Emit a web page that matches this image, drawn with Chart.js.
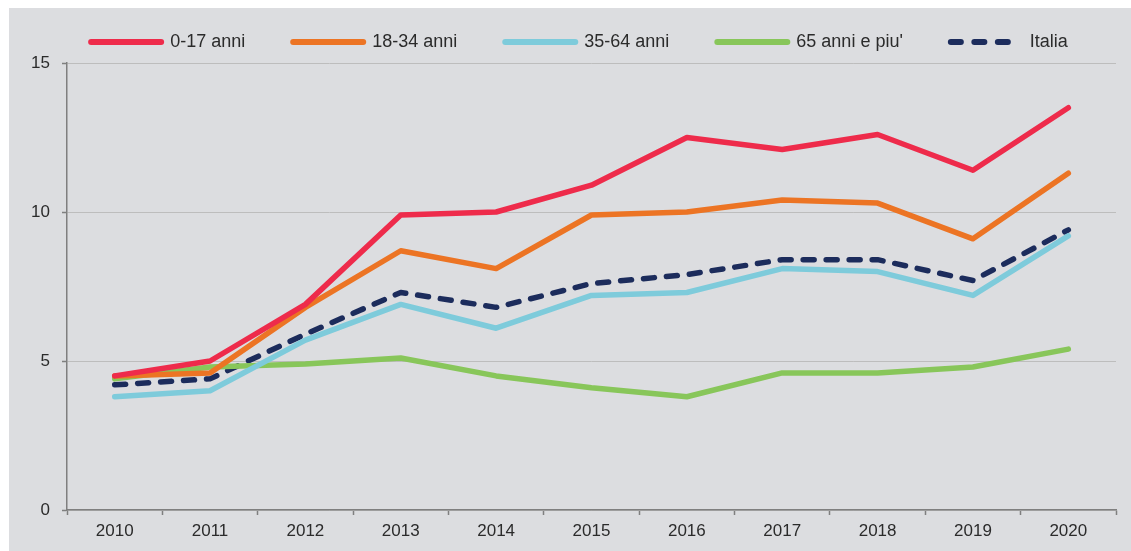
<!DOCTYPE html>
<html>
<head>
<meta charset="utf-8">
<script src="https://cdn.jsdelivr.net/npm/chart.js@4"></script>
<style>
  html, body { margin: 0; padding: 0; background: #ffffff; }
  #box { position: absolute; left: 9px; top: 8px; width: 1122px; height: 543px; background: #dcdde0; }
</style>
</head>
<body>
<div id="box"><canvas id="myChart" width="1122" height="543"></canvas></div>
<script>
'use strict';
let years = ['2010', '2011', '2012', '2013', '2014', '2015', '2016', '2017', '2018', '2019', '2020'];
let age0to17 = [4.5, 5.0, 6.9, 9.9, 10.0, 10.9, 12.5, 12.1, 12.6, 11.4, 13.5];
let age18to34 = [4.5, 4.6, 6.8, 8.7, 8.1, 9.9, 10.0, 10.4, 10.3, 9.1, 11.3];
let age35to64 = [3.8, 4.0, 5.7, 6.9, 6.1, 7.2, 7.3, 8.1, 8.0, 7.2, 9.2];
let age65plus = [4.4, 4.8, 4.9, 5.1, 4.5, 4.1, 3.8, 4.6, 4.6, 4.8, 5.4];
let italia = [4.2, 4.4, 5.9, 7.3, 6.8, 7.6, 7.9, 8.4, 8.4, 7.7, 9.4];
let yTicks = [0, 5, 10, 15];

let fontFamily = '"Liberation Sans", Arial, sans-serif';

function makeLine(label, data, color, dash) {
    return {
        label: label,
        data: data,
        borderColor: color,
        backgroundColor: color,
        borderWidth: 5.5,
        borderDash: dash || [],
        borderCapStyle: 'round',
        borderJoinStyle: 'round',
        pointRadius: 0,
        pointHoverRadius: 0,
        tension: 0,
        fill: false
    };
}

// legend: keep the wide gaps between items but not the tall box,
// and centre it over the plot rather than the whole canvas
let legendBox = {
    id: 'legendBox',
    beforeInit(chart) {
        let fit = chart.legend.fit;
        chart.legend.fit = function () {
            fit.call(this);
            this.height = 78;
        };
    },
    afterLayout(chart) {
        chart.legend.left += 34;
    }
};

let chartEl = document.getElementById('myChart').getContext('2d');
let myChart = new Chart(chartEl, {
    type: 'line',
    data: {
        labels: years,
        datasets: [
            makeLine('0-17 anni', age0to17, '#ee2b4b'),
            makeLine('18-34 anni', age18to34, '#ec7424'),
            makeLine('35-64 anni', age35to64, '#7ecbdb'),
            makeLine("65 anni e piu'", age65plus, '#88c65a'),
            makeLine('Italia', italia, '#1c2c5c', [11, 12])
        ]
    },
    options: {
        responsive: false,
        animation: false,
        layout: { padding: { top: -23, left: 0, right: 15, bottom: 0 } },
        plugins: {
            tooltip: { enabled: false },
            legend: {
                position: 'top',
                labels: {
                    usePointStyle: true,
                    pointStyle: 'line',
                    pointStyleWidth: 70,
                    padding: 48,
                    color: '#2b2b2b',
                    font: { family: fontFamily, size: 18 },
                    generateLabels(chart) {
                        let items = Chart.defaults.plugins.legend.labels.generateLabels(chart);
                        items.forEach(item => {
                            let ds = chart.data.datasets[item.datasetIndex];
                            // three dashes in the legend sample, like the original
                            item.lineDash = ds.borderDash.length ? [10, 13.5] : [];
                            item.lineCap = 'round';
                            item.lineWidth = 6;
                        });
                        return items;
                    }
                }
            }
        },
        scales: {
            x: {
                offset: true,
                afterFit(scale) { scale.height = 41; },
                grid: {
                    offset: true,
                    drawOnChartArea: false,
                    drawTicks: true,
                    tickLength: 5,
                    tickColor: '#7f7f7f',
                    tickWidth: 1.5
                },
                border: { color: '#7f7f7f', width: 1.5 },
                ticks: {
                    color: '#2b2b2b',
                    padding: 6,
                    maxRotation: 0,
                    font: { family: fontFamily, size: 17 }
                }
            },
            y: {
                min: 0,
                max: 15,
                afterFit(scale) { scale.width = 58; },
                afterBuildTicks(scale) {
                    scale.ticks = yTicks.map(v => ({ value: v }));
                },
                grid: {
                    color: '#bdbdbd',
                    lineWidth: 1,
                    tickLength: 5,
                    tickColor: '#7f7f7f',
                    tickWidth: 1.5
                },
                border: { color: '#7f7f7f', width: 1.5 },
                ticks: {
                    color: '#2b2b2b',
                    padding: 12,
                    font: { family: fontFamily, size: 17 }
                }
            }
        }
    },
    plugins: [legendBox]
});
</script>
</body>
</html>
